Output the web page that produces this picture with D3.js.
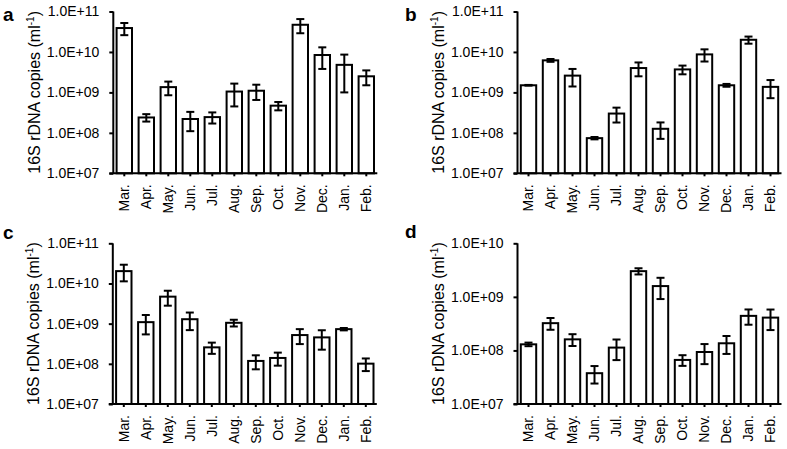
<!DOCTYPE html>
<html><head><meta charset="utf-8">
<script src="https://cdn.jsdelivr.net/npm/d3@7"></script>
<style>
body{margin:0;background:#fff;}
svg{display:block;}
text{font-family:Arial,"Liberation Sans",sans-serif;fill:#000;}
</style></head>
<body>
<svg id="chart" width="787" height="449"></svg>
<script>
const months = ["Mar.","Apr.","May.","Jun.","Jul.","Aug.","Sep.","Oct.","Nov.","Dec.","Jan.","Feb."];
const tickLabels11 = ["1.0E+07","1.0E+08","1.0E+09","1.0E+10","1.0E+11"];
const tickLabels10 = ["1.0E+07","1.0E+08","1.0E+09","1.0E+10"];

const aMean = [3.9e10,2.4e8,1.35e9,2.2e8,2.45e8,1.05e9,1.1e9,4.7e8,4.7e10,8.4e9,4.8e9,2.5e9];
const aErr  = [1.3e10,0.5e8,0.5e9,1.1e8,0.75e8,0.6e9,0.45e9,1.1e8,1.8e10,4.6e9,3.8e9,1.0e9];

const bMean = [1.5e9,6.2e9,2.6e9,7.4e7,3.0e8,4.0e9,1.26e8,3.7e9,8.7e9,1.5e9,2.0e10,1.37e9];
const bErr  = [0.03e9,0.5e9,1.2e9,0.5e7,1.2e8,1.5e9,0.55e8,0.9e9,2.9e9,0.12e9,0.4e10,0.65e9];

const cMean = [2.03e10,1.09e9,4.7e9,1.29e9,2.57e8,1.05e9,1.18e8,1.4e8,5.2e8,4.55e8,7.3e8,1.01e8];
const cErr  = [0.9e10,0.55e9,1.9e9,0.6e9,0.8e8,0.2e9,0.45e8,0.5e8,2.1e8,2.3e8,0.5e8,0.35e8];

const dMean = [1.3e8,3.23e8,1.61e8,3.76e7,1.13e8,3.02e9,1.59e9,6.65e7,9.35e7,1.36e8,4.42e8,4.1e8];
const dErr  = [0.1e8,0.8e8,0.4e8,1.35e7,0.47e8,0.4e9,0.68e9,1.5e7,3.8e7,0.5e8,1.4e8,1.7e8];

const panels = [
  {letter:"a", mean:aMean, err:aErr, max:1e11, ticks:tickLabels11, x0:113.3, top:11.5, bottom:173.3, lx:3, ly:21},
  {letter:"b", mean:bMean, err:bErr, max:1e11, ticks:tickLabels11, x0:517.5, top:11.5, bottom:173.3, lx:405, ly:21},
  {letter:"c", mean:cMean, err:cErr, max:1e11, ticks:tickLabels11, x0:112.8, top:243.3, bottom:404, lx:3, ly:239},
  {letter:"d", mean:dMean, err:dErr, max:1e10, ticks:tickLabels10, x0:517.5, top:243.3, bottom:404, lx:405, ly:238}
];

const svg = d3.select("#chart");
const W = 264;

panels.forEach(p => {
  const g = svg.append("g");
  const x = d3.scaleBand().domain(months).range([p.x0, p.x0 + W]).paddingInner(0.3).paddingOuter(0.15);
  const y = d3.scaleLog().domain([1e7, p.max]).range([p.bottom, p.top]);
  const tickVals = p.ticks.map(Number);

  // bars
  g.selectAll("rect.bar").data(months).enter().append("rect")
    .attr("x", d => x(d))
    .attr("width", x.bandwidth())
    .attr("y", (d,i) => y(p.mean[i]))
    .attr("height", (d,i) => y(1e7) - y(p.mean[i]))
    .attr("fill", "#fff").attr("stroke", "#000").attr("stroke-width", 2);

  // error bars
  const cap = 4;
  months.forEach((m,i) => {
    const cx = x(m) + x.bandwidth()/2;
    const hi = y(p.mean[i] + p.err[i]);
    const lo = y(Math.max(p.mean[i] - p.err[i], 1.01e7));
    g.append("line").attr("x1",cx).attr("x2",cx).attr("y1",hi).attr("y2",lo).attr("stroke","#000").attr("stroke-width",2);
    g.append("line").attr("x1",cx-cap).attr("x2",cx+cap).attr("y1",hi).attr("y2",hi).attr("stroke","#000").attr("stroke-width",2);
    g.append("line").attr("x1",cx-cap).attr("x2",cx+cap).attr("y1",lo).attr("y2",lo).attr("stroke","#000").attr("stroke-width",2);
  });

  // y axis
  const yAxis = d3.axisLeft(y).tickValues(tickVals).tickSize(4).tickPadding(10)
    .tickFormat((d,i) => p.ticks[i]);
  const ya = g.append("g").attr("transform", `translate(${p.x0},0)`).call(yAxis);
  ya.select(".domain").attr("stroke-width", 2).attr("d", `M0,${p.top}V${p.bottom}`);
  ya.selectAll(".tick line").attr("stroke-width", 2);
  ya.selectAll(".tick text").attr("font-size", 14).attr("font-family", "Arial, 'Liberation Sans', sans-serif");

  // x axis
  const xAxis = d3.axisBottom(x).tickSize(3).tickPadding(4);
  const xa = g.append("g").attr("transform", `translate(0,${p.bottom})`).call(xAxis);
  xa.select(".domain").attr("stroke-width", 2).attr("d", `M${p.x0-4},0H${p.x0 + W}`);
  xa.selectAll(".tick line").attr("stroke-width", 2);
  xa.selectAll(".tick text")
    .attr("font-size", 14).attr("font-family", "Arial, 'Liberation Sans', sans-serif")
    .attr("text-anchor", "end")
    .attr("transform", "rotate(-90)")
    .attr("x", -11).attr("y", 0).attr("dy", "0.35em");

  // y title
  const cy = (p.top + p.bottom) / 2;
  const t = g.append("text")
    .attr("transform", `translate(${p.x0 - 79},${cy}) rotate(-90)`)
    .attr("text-anchor", "middle").attr("dy", "0.35em")
    .attr("font-size", 16);
  t.append("tspan").text("16S rDNA copies (ml");
  t.append("tspan").attr("font-size", 10).attr("dy", -6).text("-1");
  t.append("tspan").attr("dy", 6).text(")");

  // panel letter
  g.append("text").attr("x", p.lx).attr("y", p.ly)
    .attr("font-size", 19).attr("font-weight", "bold").text(p.letter);
});
</script>
</body></html>
